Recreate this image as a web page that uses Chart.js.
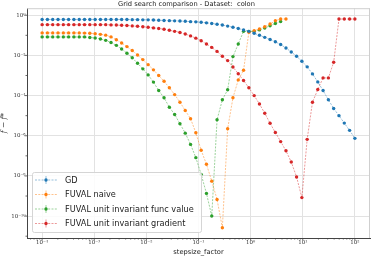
<!DOCTYPE html>
<html><head><meta charset="utf-8">
<script src="https://cdn.jsdelivr.net/npm/chart.js@4"></script>
<style>html,body{margin:0;padding:0;background:#fff}canvas{display:block}</style>
</head><body>
<canvas id="c" width="374" height="256"></canvas>
<script>
// 60 step size factors from 1e-4 to 1e2
const stepsize = [
 1.000e-4,1.264e-4,1.597e-4,2.019e-4,2.551e-4,3.224e-4,4.075e-4,5.151e-4,6.510e-4,8.227e-4,
 1.040e-3,1.314e-3,1.661e-3,2.099e-3,2.653e-3,3.353e-3,4.238e-3,5.356e-3,6.769e-3,8.555e-3,
 1.081e-2,1.367e-2,1.727e-2,2.183e-2,2.759e-2,3.487e-2,4.406e-2,5.569e-2,7.039e-2,8.896e-2,
 0.1124,0.1421,0.1796,0.2270,0.2869,0.3625,0.4581,0.5790,0.7317,0.9250,
 1.169,1.477,1.867,2.360,2.983,3.769,4.764,6.021,7.610,9.617,
 12.155,15.362,19.416,24.539,31.014,39.198,49.540,62.611,79.132,100];
const seriesNames = ['GD','FUVAL naive','FUVAL unit invariant func value','FUVAL unit invariant gradient'];
const seriesColors = ['#1f77b4','#ff7f0e','#2ca02c','#d62728'];
// f - f* per stepsize
const gd = [0.617,0.617,0.617,0.617,0.617,0.617,0.617,0.617,0.617,0.617,
 0.617,0.617,0.617,0.617,0.617,0.617,0.617,0.603,0.603,0.589,
 0.589,0.575,0.562,0.550,0.537,0.525,0.513,0.501,0.479,0.468,
 0.447,0.417,0.389,0.355,0.324,0.288,0.251,0.219,0.186,0.158,
 0.126,0.100,0.0794,0.0617,0.0479,0.0347,0.0234,0.0148,0.00912,0.00513,
 0.00269,0.00120,4.79e-4,1.78e-4,6.17e-5,2.29e-5,1.0e-5,4.27e-6,1.86e-6,7.41e-7];
const fuvalNaive = [0.132,0.132,0.132,0.132,0.132,0.132,0.132,0.132,0.129,0.126,
 0.120,0.112,0.102,0.0832,0.0603,0.0417,0.0275,0.0174,0.0105,0.00617,
 0.00347,0.00191,0.00100,5.13e-4,2.45e-4,1.12e-4,4.68e-5,1.82e-5,7.08e-6,1.41e-6,
 1.91e-7,3.80e-8,5.50e-9,6.76e-10,2.63e-11,2.24e-6,7.76e-5,6.03e-4,0.00182,0.141,
 0.170,0.209,0.269,0.363,0.537,0.646,0.646];
const fuvalFuncValue = [0.0832,0.0832,0.0832,0.0832,0.0832,0.0832,0.0832,0.0832,0.0832,0.0776,
 0.0741,0.0661,0.0562,0.0437,0.0316,0.0209,0.0129,0.00759,0.00407,0.00214,
 0.00107,4.68e-4,1.78e-4,7.76e-5,2.63e-5,1.15e-5,3.98e-6,1.35e-6,3.72e-7,8.13e-8,
 1.20e-8,1.35e-9,1.02e-10,6.31e-6,6.17e-5,1.95e-4,0.00871,0.0372,0.158,0.158,
 0.158,0.186,0.229,0.302,0.389,0.490];
const fuvalGradient = [0.339,0.339,0.339,0.339,0.339,0.339,0.339,0.339,0.339,0.339,
 0.339,0.339,0.339,0.331,0.324,0.316,0.309,0.295,0.282,0.269,
 0.251,0.234,0.219,0.200,0.178,0.158,0.138,0.117,0.0933,0.0724,
 0.0537,0.0372,0.0251,0.0158,0.00912,0.00550,0.00263,0.00123,5.62e-4,2.45e-4,
 1.0e-4,3.80e-5,1.32e-5,4.17e-6,1.45e-6,5.13e-7,1.78e-7,4.90e-8,8.91e-9,8.32e-10,
 6.61e-7,4.68e-5,2.0e-4,7.59e-4,7.59e-4,0.00457,0.646,0.646,0.646,0.646];
const seriesValues = [gd, fuvalNaive, fuvalFuncValue, fuvalGradient];
const xTickValues = [1e-4,1e-3,1e-2,1e-1,1,10,100];
const xTickLabels = ['10\u207B\u2074','10\u207B\u00B3','10\u207B\u00B2','10\u207B\u00B9','10\u2070','10\u00B9','10\u00B2'];
const yTickValues = [1e-10,1e-8,1e-6,1e-4,1e-2,1];
const yTickLabels = ['10\u207B\u00B9\u2070','10\u207B\u2078','10\u207B\u2076','10\u207B\u2074','10\u207B\u00B2','10\u2070'];

function rgba(hex,a){const n=parseInt(hex.slice(1),16);return `rgba(${n>>16},${(n>>8)&255},${n&255},${a})`;}

const datasets = seriesNames.map((name,k)=>({
  label: name,
  data: seriesValues[k].map((v,i)=>({x: stepsize[i], y: v})),
  borderColor: rgba(seriesColors[k],0.6),
  backgroundColor: seriesColors[k],
  pointBackgroundColor: seriesColors[k],
  pointBorderWidth: 0,
  pointRadius: 1.7,
  borderWidth: 0.8,
  borderDash: [2,1.3],
  tension: 0,
  fill: false
}));

const frameAndTicks = {
  id:'frameAndTicks',
  afterDraw(chart){
    const {ctx, chartArea:a, scales:{x,y}} = chart;
    ctx.save();
    ctx.strokeStyle='#cfcfcf'; ctx.lineWidth=1;
    ctx.beginPath(); ctx.moveTo(a.left,a.top+0.5); ctx.lineTo(a.right,a.top+0.5);
    ctx.moveTo(a.right-0.5,a.top); ctx.lineTo(a.right-0.5,a.bottom); ctx.stroke();
    ctx.strokeStyle='#444'; ctx.lineWidth=0.8;
    ctx.beginPath();
    for(let e=-5;e<=2;e++){for(let m=1;m<=9;m++){const v=m*Math.pow(10,e);
      if(v<x.min||v>x.max) continue; const px=x.getPixelForValue(v);
      const len = m===1?2.5:1.5; ctx.moveTo(px,a.bottom); ctx.lineTo(px,a.bottom+len);}}
    for(let e=-11;e<=0;e++){const v=Math.pow(10,e); if(v<y.min||v>y.max) continue;
      const py=y.getPixelForValue(v); const len = (e%2===0)?2.5:1.5;
      ctx.moveTo(a.left,py); ctx.lineTo(a.left-len,py);}
    ctx.stroke();
    // legend
    const lx=32, ly=172, lw=169, lh=60;
    ctx.fillStyle='rgba(255,255,255,0.85)'; ctx.strokeStyle='#d5d5d5'; ctx.lineWidth=1;
    ctx.beginPath(); ctx.roundRect(lx+0.5,ly+0.5,lw,lh,2); ctx.fill(); ctx.stroke();
    ctx.font='8.2px "DejaVu Sans"'; ctx.textBaseline='middle';
    chart.data.datasets.forEach((ds,i)=>{
      const yy=180+i*14.5;
      ctx.strokeStyle=rgba(seriesColors[i],0.6); ctx.lineWidth=0.8; ctx.setLineDash([2,1.3]);
      ctx.beginPath(); ctx.moveTo(35,yy); ctx.lineTo(57,yy); ctx.stroke();
      ctx.setLineDash([]); ctx.strokeStyle=rgba(seriesColors[i],0.6);
      ctx.beginPath(); ctx.moveTo(46,yy-4); ctx.lineTo(46,yy+4); ctx.stroke();
      ctx.fillStyle=seriesColors[i]; ctx.beginPath(); ctx.arc(46,yy,1.7,0,Math.PI*2); ctx.fill();
      ctx.fillStyle='#222'; ctx.fillText(ds.label,65,yy+0.5);
    });
    ctx.restore();
  }
};

new Chart(document.getElementById('c'),{
  type:'line',
  data:{datasets},
  options:{
    responsive:false, devicePixelRatio:1, animation:false,
    layout:{padding:{left:0,right:1,top:0,bottom:0}},
    plugins:{
      legend:{display:false}, tooltip:{enabled:false},
      title:{display:true,text:'Grid search comparison - Dataset:  colon',color:'#222',
        font:{family:'DejaVu Sans',size:6.7,weight:'normal',lineHeight:1},padding:{top:1,bottom:0.5}}
    },
    scales:{
      x:{type:'logarithmic', min:Math.pow(10,-4.29), max:Math.pow(10,2.29),
        afterBuildTicks:s=>{s.ticks=xTickValues.map(v=>({value:v}));},
        afterFit:s=>{s.height=18;},
        ticks:{autoSkip:false,maxRotation:0,padding:1,color:'#333',font:{family:'DejaVu Serif',size:5.5},
          callback:(v,i)=>xTickLabels[i]},
        grid:{color:'#e2e2e2',lineWidth:1,drawTicks:false},
        border:{color:'#444',width:1},
        title:{display:true,text:'stepsize_factor',color:'#222',font:{family:'DejaVu Sans',size:6.7},padding:{top:0,bottom:0}}
      },
      y:{type:'logarithmic', min:Math.pow(10,-11.09), max:Math.pow(10,0.35),
        afterBuildTicks:s=>{s.ticks=yTickValues.map(v=>({value:v}));},
        afterFit:s=>{s.width=27;},
        ticks:{autoSkip:false,padding:1.5,color:'#333',font:{family:'DejaVu Serif',size:5.5},
          callback:(v,i)=>yTickLabels[i]},
        grid:{color:'#e2e2e2',lineWidth:1,drawTicks:false},
        border:{color:'#444',width:1},
        title:{display:true,text:'f \u2212 f*',color:'#222',font:{family:'DejaVu Serif',size:7.5,style:'italic'},padding:{top:0,bottom:0}}
      }
    }
  },
  plugins:[frameAndTicks]
});
</script>
</body></html>
